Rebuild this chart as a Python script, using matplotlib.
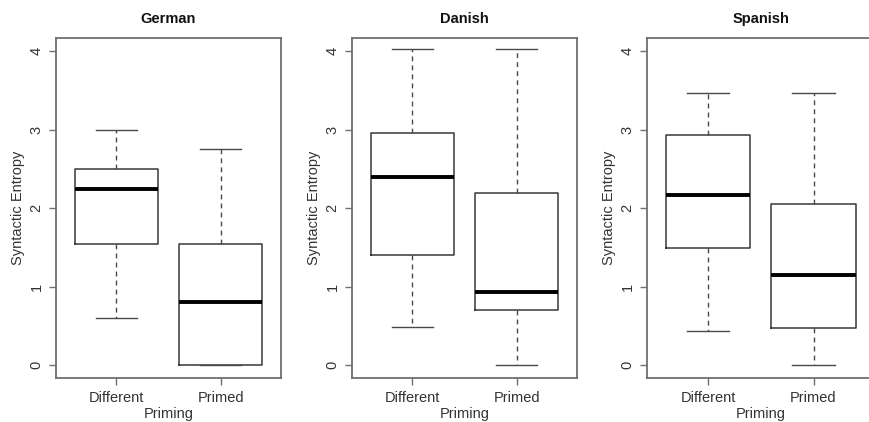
import matplotlib.pyplot as plt

plt.rcParams['font.family'] = ['Liberation Sans', 'DejaVu Sans']

# Panel data: whisker low, Q1, median, Q3, whisker high
languages = ['German', 'Danish', 'Spanish']
groups = ['Different', 'Primed']

german_diff = [0.595, 1.545, 2.24, 2.50, 3.00]
german_prim = [0.00, 0.00, 0.80, 1.545, 2.75]
danish_diff = [0.49, 1.40, 2.40, 2.95, 4.02]
danish_prim = [0.00, 0.70, 0.93, 2.195, 4.02]
spanish_diff = [0.43, 1.495, 2.16, 2.925, 3.46]
spanish_prim = [0.00, 0.47, 1.15, 2.047, 3.46]

yticks = [0, 1, 2, 3, 4]

panels = [
    (german_diff, german_prim),
    (danish_diff, danish_prim),
    (spanish_diff, spanish_prim),
]

def to_stats(vals, label):
    lo, q1, med, q3, hi = vals
    return {'whislo': lo, 'q1': q1, 'med': med, 'q3': q3, 'whishi': hi,
            'label': label, 'fliers': []}

fig = plt.figure(figsize=(8.69, 4.22), dpi=100)

lefts = [0.0644, 0.405, 0.7445]
widths = [0.259, 0.259, 0.262]
text_col = '#333333'
spine_col = '#707070'

for i, (lang, data) in enumerate(zip(languages, panels)):
    ax = fig.add_axes([lefts[i], 0.104, widths[i], 0.806])
    stats = [to_stats(v, g) for v, g in zip(data, groups)]
    ax.bxp(stats, positions=[1, 2], widths=0.8, showfliers=False,
           boxprops=dict(color='#383838', linewidth=1.1),
           medianprops=dict(color='black', linewidth=2.8),
           whiskerprops=dict(color='#484848', linewidth=1.0, linestyle=(0, (3.5, 3))),
           capprops=dict(color='#484848', linewidth=1.0),
           capwidths=0.4)
    ax.set_xlim(0.42, 2.58)
    ax.set_ylim(-0.166, 4.166)
    ax.set_yticks(yticks)
    ax.set_yticklabels([str(t) for t in yticks], rotation=90, va='center',
                       fontsize=10.5, color=text_col)
    ax.set_xticks([1, 2])
    ax.set_xticklabels(groups, fontsize=10.5, color=text_col)
    ax.tick_params(axis='both', direction='out', length=5, width=1,
                   color=spine_col, pad=4)
    for s in ax.spines.values():
        s.set_color(spine_col)
        s.set_linewidth(1.3)
    if i == 2:
        # right edge of the last panel is cropped off in the original
        ax.spines['right'].set_visible(False)
    ax.set_title(lang, fontsize=10.5, fontweight='bold', color='#111111', pad=11)
    ax.set_ylabel('Syntactic Entropy', fontsize=10.5, color=text_col, labelpad=3)
    ax.set_xlabel('Priming', fontsize=10.5, color=text_col, labelpad=2)

fig.savefig('out.png', dpi=100)
